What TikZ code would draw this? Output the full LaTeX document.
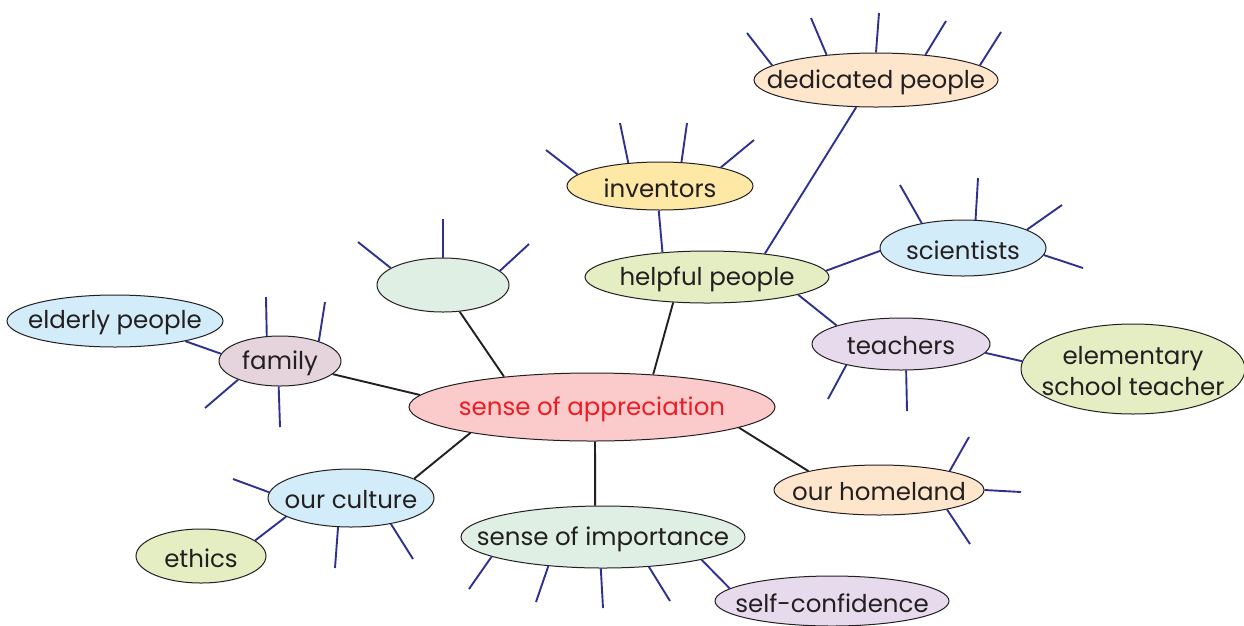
\documentclass[tikz,border=0pt]{standalone}
\usepackage{fontspec}
\setmainfont{Poppins}
\usetikzlibrary{shapes.geometric}
\definecolor{peach}{HTML}{FDE6CC}
\definecolor{sunny}{HTML}{FDE8A6}
\definecolor{skyb}{HTML}{D3ECF9}
\definecolor{limeg}{HTML}{E5EEC3}
\definecolor{mintg}{HTML}{DFEFE3}
\definecolor{mauve}{HTML}{E5D4DC}
\definecolor{lav}{HTML}{E6DAEC}
\definecolor{rosy}{HTML}{FBCBCB}
\definecolor{redtxt}{HTML}{ED1C24}
\definecolor{spokeblue}{HTML}{2E3192}
\definecolor{linkblack}{HTML}{231F20}
\begin{document}
\begin{tikzpicture}[x=1pt,y=-1pt,
  bub/.style={ellipse, draw=linkblack, line width=1pt, inner sep=0pt},
  every label/.style={font=\fontsize{24.5}{31}\selectfont, text=linkblack, align=center, inner sep=0pt, yshift=-2pt},
  link/.style={line width=1.9pt, draw=linkblack},
  spoke/.style={line width=1.9pt, draw=spokeblue}]
\useasboundingbox (0,0) rectangle (1244,625);

% nodes
\node[bub, fill=peach, minimum width=244pt, minimum height=54pt, label=center:dedicated people] (ded) at (876,80) {};
\node[bub, fill=sunny, minimum width=186pt, minimum height=48pt, label=center:inventors] (inv) at (660,186) {};
\node[bub, fill=skyb, minimum width=166pt, minimum height=56pt, label=center:scientists] (sci) at (963,248) {};
\node[bub, fill=limeg, minimum width=244pt, minimum height=52pt, label=center:helpful people] (help) at (707,277) {};
\node[bub, fill=mintg, minimum width=132pt, minimum height=54pt] (blank) at (443,285) {};
\node[bub, fill=skyb, minimum width=216pt, minimum height=52pt, label=center:elderly people] (eld) at (115,321) {};
\node[bub, fill=mauve, minimum width=122pt, minimum height=50pt, label=center:family] (fam) at (280,361) {};
\node[bub, fill=lav, minimum width=178pt, minimum height=52pt, label=center:teachers] (tea) at (901,344) {};
\node[bub, fill=limeg, minimum width=224pt, minimum height=90pt, label={center:elementary\\school teacher}] (elem) at (1133,369) {};
\node[bub, fill=rosy, minimum width=366pt, minimum height=68pt, label={[text=redtxt]center:sense of appreciation}] (app) at (592,407) {};
\node[bub, fill=peach, minimum width=210pt, minimum height=50pt, label=center:our homeland] (home) at (879,490) {};
\node[bub, fill=skyb, minimum width=166pt, minimum height=58pt, label=center:our culture] (cul) at (351,498) {};
\node[bub, fill=limeg, minimum width=130pt, minimum height=54pt, label=center:ethics] (eth) at (201,556) {};
\node[bub, fill=mintg, minimum width=284pt, minimum height=62pt, label=center:sense of importance] (imp) at (603,537) {};
\node[bub, fill=lav, minimum width=234pt, minimum height=50pt, label=center:self-confidence] (self) at (832,601) {};

% black links
\draw[link] (app.176.9) -- (fam.346.2);
\draw[link] (app.161.8) -- (blank.302.2);
\draw[link] (app.28.4) -- (help.217.4);
\draw[link] (app.352.9) -- (home.165.8);
\draw[link] (app.192.3) -- (cul.17.9);
\draw[link] (app.275) -- (imp.104.5);

% blue links
\draw[spoke] (help.151.6) -- (inv.267.6);
\draw[spoke] (help.22.5) -- (ded.234.9);
\draw[spoke] (help.3.3) -- (sci.182.8);
\draw[spoke] (help.349) -- (tea.164.5);
\draw[spoke] (tea.354.1) -- (elem.176.4);
\draw[spoke] (fam.173.3) -- (eld.344);
\draw[spoke] (cul.196.9) -- (eth.16.1);
\draw[spoke] (imp.347.3) -- (self.173.5);

% free ends
\coordinate (d1) at (747,33);  \coordinate (d2) at (811,18);
\coordinate (d3) at (879,13);  \coordinate (d4) at (946,21);
\coordinate (d5) at (1001,32);
\coordinate (i1) at (546,150); \coordinate (i2) at (620,123);
\coordinate (i3) at (687,123); \coordinate (i4) at (754,140);
\coordinate (s1) at (900,185); \coordinate (s2) at (978,178);
\coordinate (s3) at (1062,205); \coordinate (s4) at (1083,268);
\coordinate (t1) at (828,399); \coordinate (t2) at (907,411);
\coordinate (b1) at (358,242); \coordinate (b2) at (443,219);
\coordinate (b3) at (529,244);
\coordinate (f1) at (266,297); \coordinate (f2) at (325,302);
\coordinate (f3) at (205,408); \coordinate (f4) at (280,427);
\coordinate (h1) at (969,437); \coordinate (h2) at (1021,492);
\coordinate (h3) at (970,544);
\coordinate (c1) at (233,479); \coordinate (c2) at (335,568);
\coordinate (c3) at (413,559);
\coordinate (m1) at (469,589); \coordinate (m2) at (536,602);
\coordinate (m3) at (603,608); \coordinate (m4) at (670,601);

% spokes
\draw[spoke] (ded.172) -- (d1);
\draw[spoke] (ded.153.9) -- (d2);
\draw[spoke] (ded.90) -- (d3);
\draw[spoke] (ded.27.5) -- (d4);
\draw[spoke] (ded.8.2) -- (d5);
\draw[spoke] (inv.172.2) -- (i1);
\draw[spoke] (inv.144) -- (i2);
\draw[spoke] (inv.48.7) -- (i3);
\draw[spoke] (inv.17.4) -- (i4);
\draw[spoke] (sci.149) -- (s1);
\draw[spoke] (sci.66.6) -- (s2);
\draw[spoke] (sci.16.6) -- (s3);
\draw[spoke] (sci.-5.6) -- (s4);
\draw[spoke] (tea.201.4) -- (t1);
\draw[spoke] (tea.281) -- (t2);
\draw[spoke] (blank.162.5) -- (b1);
\draw[spoke] (blank.90) -- (b2);
\draw[spoke] (blank.14.7) -- (b3);
\draw[spoke] (fam.118.4) -- (f1);
\draw[spoke] (fam.27.8) -- (f2);
\draw[spoke] (fam.204.9) -- (f3);
\draw[spoke] (fam.267.8) -- (f4);
\draw[spoke] (home.15.3) -- (h1);
\draw[spoke] (home.0) -- (h2);
\draw[spoke] (home.-16) -- (h3);
\draw[spoke] (cul.176.5) -- (c1);
\draw[spoke] (cul.246.4) -- (c2);
\draw[spoke] (cul.327.5) -- (c3);
\draw[spoke] (imp.190.6) -- (m1);
\draw[spoke] (imp.208.2) -- (m2);
\draw[spoke] (imp.266.4) -- (m3);
\draw[spoke] (imp.327.1) -- (m4);
\end{tikzpicture}
\end{document}
